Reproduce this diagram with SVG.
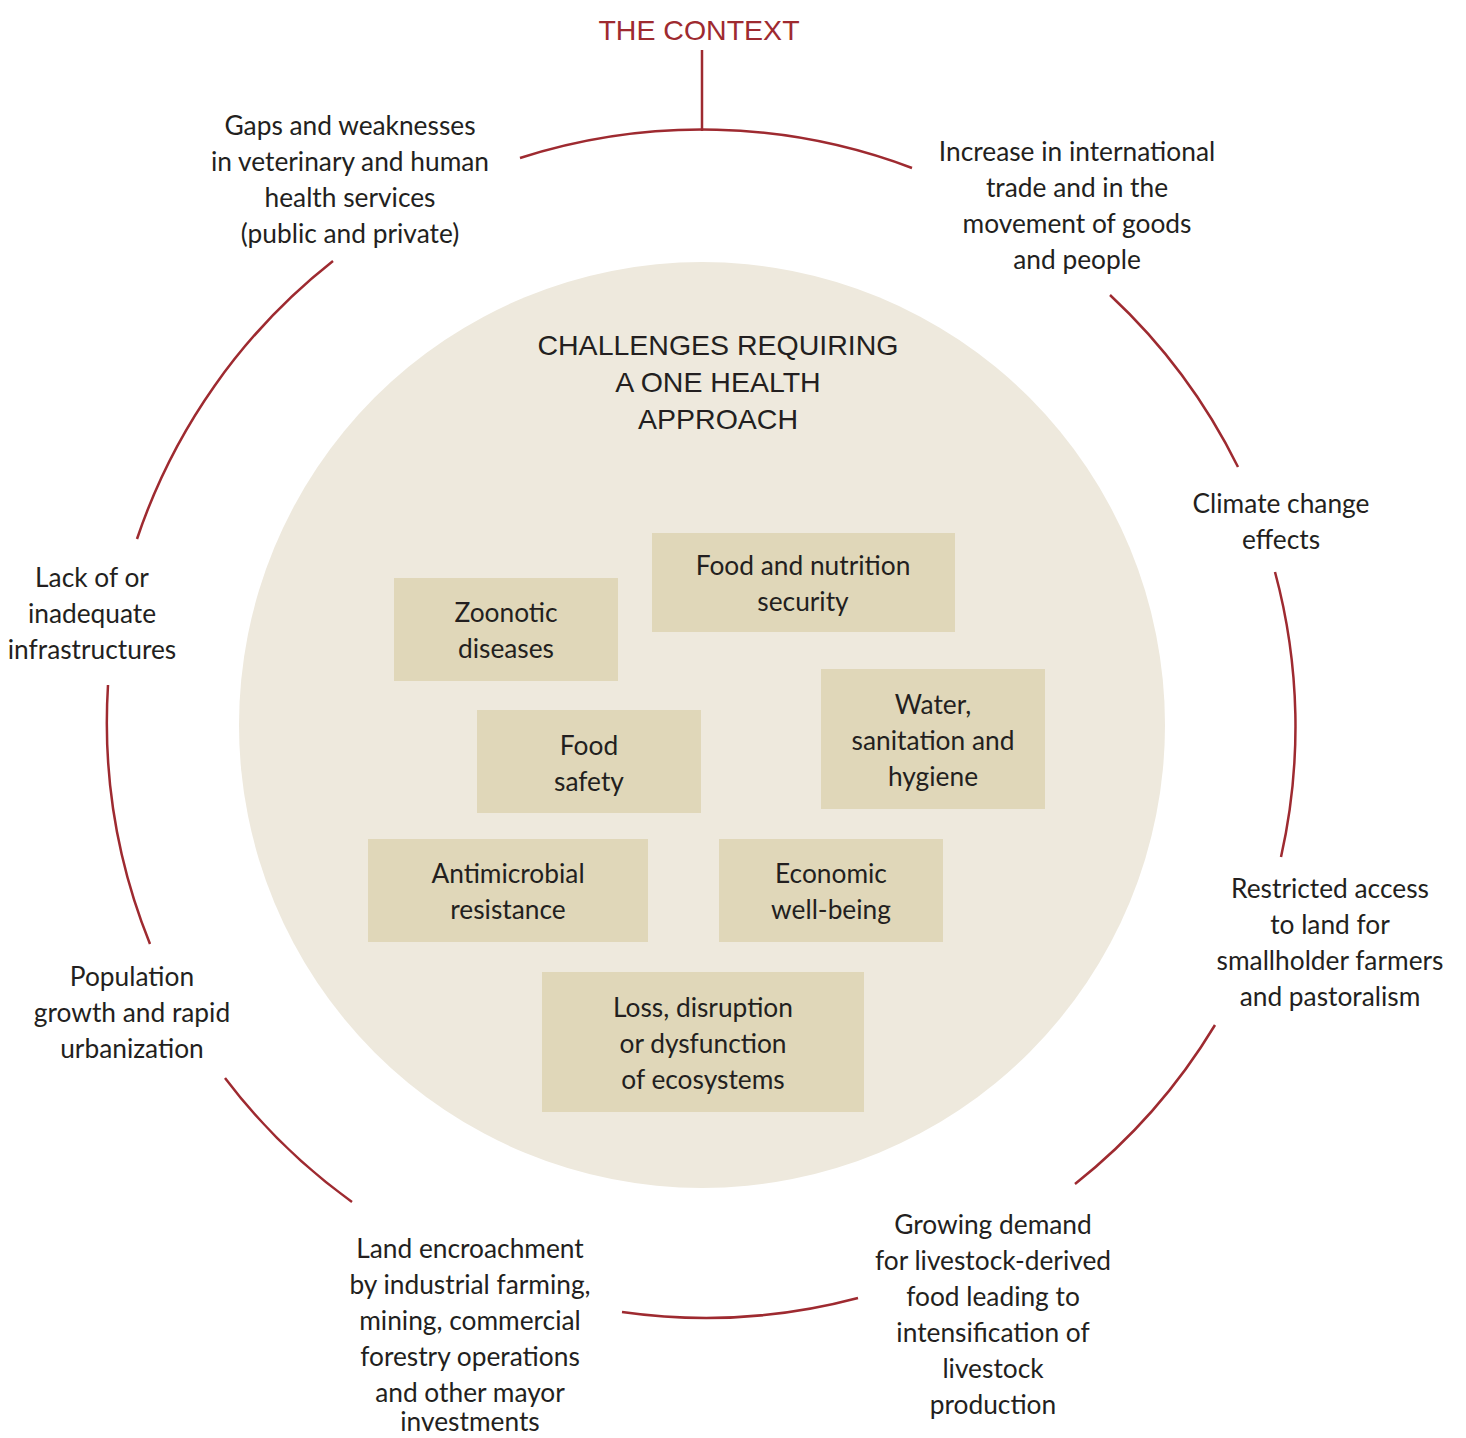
<svg xmlns="http://www.w3.org/2000/svg" width="1466" height="1438" viewBox="0 0 1466 1438">
<style>
.lbl{font-family:Lato,"Liberation Sans",Arial,sans-serif;font-size:26.3px;fill:#231f20;text-anchor:middle}
.ttl{font-family:"Liberation Sans",Arial,sans-serif;font-size:28.5px;text-anchor:middle}
.arc{fill:none;stroke:#9e2a30;stroke-width:2.5}
.box{fill:#e0d7b9}
</style>
<rect width="1466" height="1438" fill="#ffffff"/>
<circle id="inner-circle" cx="702" cy="725" r="463" fill="#eee9dd"/>
<g id="title"><text class="ttl" x="699" y="40" fill="#9e2a30">THE CONTEXT</text></g>
<g id="connectors">
<line class="arc" x1="702" y1="50" x2="702" y2="131"/>
<path class="arc" d="M520,158 A594,594 0 0 1 912,168"/>
<path class="arc" d="M1110,295 A594,594 0 0 1 1238,467"/>
<path class="arc" d="M1275,572 A594,594 0 0 1 1281,857"/>
<path class="arc" d="M1215,1025 A594,594 0 0 1 1075,1184"/>
<path class="arc" d="M858,1298 A594,594 0 0 1 622,1312"/>
<path class="arc" d="M352,1202 A594,594 0 0 1 225,1078"/>
<path class="arc" d="M150,944 A594,594 0 0 1 108,685"/>
<path class="arc" d="M137,539 A594,594 0 0 1 333,261"/>
</g>
<g id="challenges-title"><text class="ttl" fill="#231f20" x="718" y="355">CHALLENGES REQUIRING<tspan x="718" y="392">A ONE HEALTH</tspan><tspan x="718" y="429">APPROACH</tspan></text></g>
<g id="ctx-gaps"><text class="lbl" x="350" y="135">Gaps and weaknesses<tspan x="350" y="171">in veterinary and human</tspan><tspan x="350" y="207">health services</tspan><tspan x="350" y="243">(public and private)</tspan></text></g>
<g id="ctx-trade"><text class="lbl" x="1077" y="161">Increase in international<tspan x="1077" y="197">trade and in the</tspan><tspan x="1077" y="233">movement of goods</tspan><tspan x="1077" y="269">and people</tspan></text></g>
<g id="ctx-climate"><text class="lbl" x="1281" y="513">Climate change<tspan x="1281" y="549">effects</tspan></text></g>
<g id="ctx-land-access"><text class="lbl" x="1330" y="898">Restricted access<tspan x="1330" y="934">to land for</tspan><tspan x="1330" y="970">smallholder farmers</tspan><tspan x="1330" y="1006">and pastoralism</tspan></text></g>
<g id="ctx-livestock"><text class="lbl" x="993" y="1234">Growing demand<tspan x="993" y="1270">for livestock-derived</tspan><tspan x="993" y="1306">food leading to</tspan><tspan x="993" y="1342">intensification of</tspan><tspan x="993" y="1378">livestock</tspan><tspan x="993" y="1414">production</tspan></text></g>
<g id="ctx-encroachment"><text class="lbl" x="470" y="1258">Land encroachment<tspan x="470" y="1294">by industrial farming,</tspan><tspan x="470" y="1330">mining, commercial</tspan><tspan x="470" y="1366">forestry operations</tspan><tspan x="470" y="1402">and other mayor</tspan><tspan x="470" y="1431">investments</tspan></text></g>
<g id="ctx-population"><text class="lbl" x="132" y="986">Population<tspan x="132" y="1022">growth and rapid</tspan><tspan x="132" y="1058">urbanization</tspan></text></g>
<g id="ctx-infrastructure"><text class="lbl" x="92" y="587">Lack of or<tspan x="92" y="623">inadequate</tspan><tspan x="92" y="659">infrastructures</tspan></text></g>
<g id="ch-food-security"><rect class="box" x="652" y="533" width="303" height="99"/><text class="lbl" x="803" y="575">Food and nutrition<tspan x="803" y="611">security</tspan></text></g>
<g id="ch-zoonotic"><rect class="box" x="394" y="578" width="224" height="103"/><text class="lbl" x="506" y="622">Zoonotic<tspan x="506" y="658">diseases</tspan></text></g>
<g id="ch-water"><rect class="box" x="821" y="669" width="224" height="140"/><text class="lbl" x="933" y="714">Water,<tspan x="933" y="750">sanitation and</tspan><tspan x="933" y="786">hygiene</tspan></text></g>
<g id="ch-food-safety"><rect class="box" x="477" y="710" width="224" height="103"/><text class="lbl" x="589" y="755">Food<tspan x="589" y="791">safety</tspan></text></g>
<g id="ch-amr"><rect class="box" x="368" y="839" width="280" height="103"/><text class="lbl" x="508" y="883">Antimicrobial<tspan x="508" y="919">resistance</tspan></text></g>
<g id="ch-economic"><rect class="box" x="719" y="839" width="224" height="103"/><text class="lbl" x="831" y="883">Economic<tspan x="831" y="919">well-being</tspan></text></g>
<g id="ch-ecosystems"><rect class="box" x="542" y="972" width="322" height="140"/><text class="lbl" x="703" y="1017">Loss, disruption<tspan x="703" y="1053">or dysfunction</tspan><tspan x="703" y="1089">of ecosystems</tspan></text></g>
</svg>
